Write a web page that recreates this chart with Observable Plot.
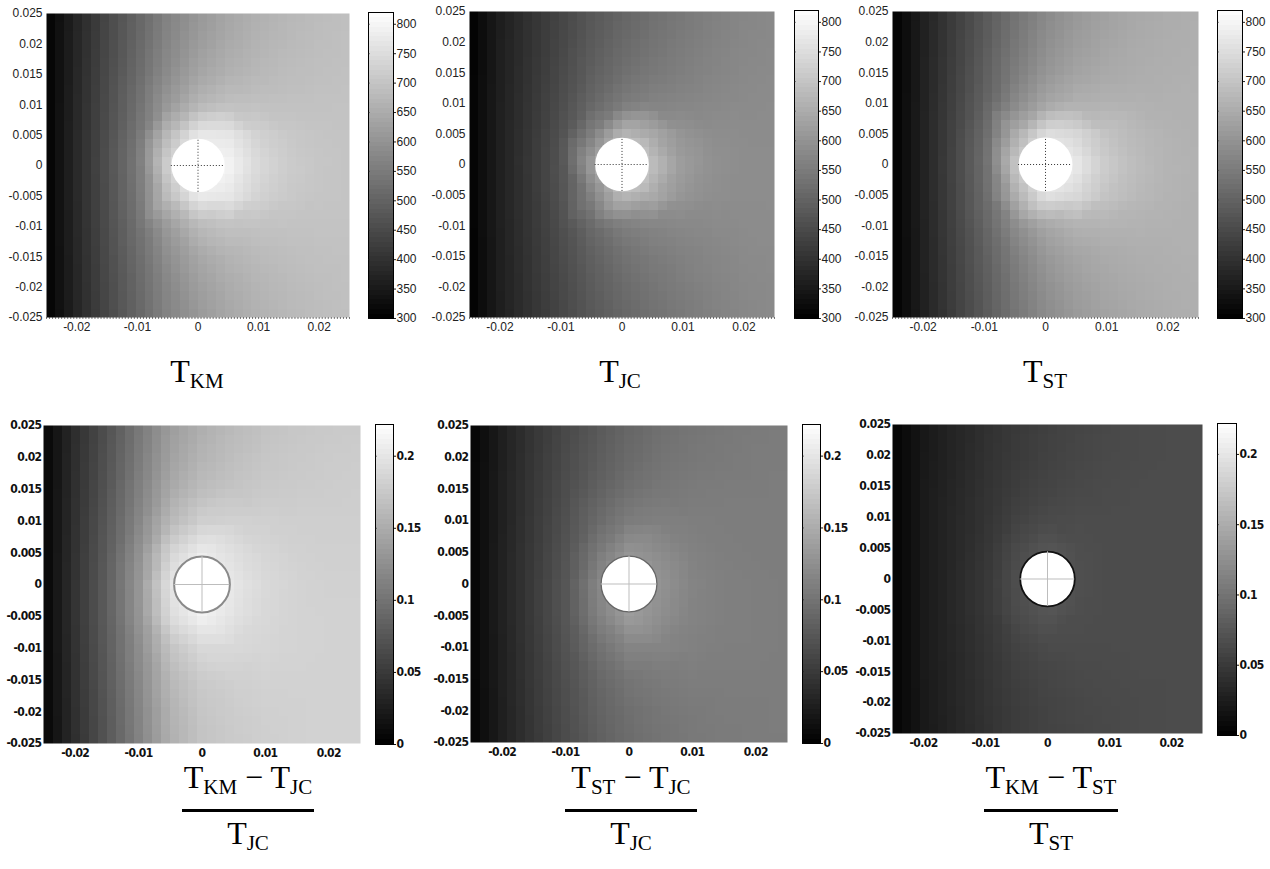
<!DOCTYPE html>
<html>
<head>
<meta charset="utf-8">
<script src="https://cdn.jsdelivr.net/npm/d3@7"></script>
<script src="https://cdn.jsdelivr.net/npm/@observablehq/plot@0.6"></script>
<style>
  body { margin: 0; background: #fff; }
  #fig { position: relative; width: 1270px; height: 869px; overflow: hidden; background: #fff; }
  #fig > svg, #fig > figure { position: absolute; margin: 0; }
  .lab { position: absolute; transform: translateX(-50%); white-space: nowrap;
         font-family: "Liberation Serif", "DejaVu Serif", serif; font-size: 32px; color: #000; line-height: normal; }
  .lab sub { font-size: 21px; vertical-align: -6px; }
  .bar { position: absolute; height: 3px; background: #000; }
</style>
</head>
<body>
<div id="fig"></div>
<script>
// Sample grid: columns are x positions, rows are y positions (top row first)
const xs = [-0.025, -0.02, -0.015, -0.01, -0.005, 0, 0.005, 0.01, 0.015, 0.02, 0.025];
const ys = [0.025, 0.02, 0.015, 0.01, 0.005, 0, -0.005, -0.01, -0.015, -0.02, -0.025];

const xTicks = [-0.02, -0.01, 0, 0.01, 0.02];
const yTicks = [0.025, 0.02, 0.015, 0.01, 0.005, 0, -0.005, -0.01, -0.015, -0.02, -0.025];
const tempTicks = [300, 350, 400, 450, 500, 550, 600, 650, 700, 750, 800];
const fracTicks = [0, 0.05, 0.1, 0.15, 0.2];
const tempDomain = [300, 820];
const fracDomain = [0, 0.222];
const xDomain = [-0.025, 0.025];
const yDomain = [-0.025, 0.025];

// Hole (inclusion) at the origin
const holeCentre = [{x: 0, y: 0}];
const holeRadius = 0.0044;

// Temperature field, KM model (K)
const tKM = [
  [300, 375, 445, 505, 565, 608, 638, 660, 674, 684, 690],
  [300, 377, 448, 510, 572, 618, 647, 666, 678, 687, 692],
  [300, 379, 452, 518, 585, 636, 662, 676, 685, 691, 694],
  [300, 381, 456, 528, 610, 672, 692, 694, 695, 696, 697],
  [300, 383, 460, 540, 680, 775, 770, 728, 709, 701, 699],
  [300, 384, 462, 548, 725, 815, 798, 744, 717, 704, 700],
  [300, 383, 460, 542, 685, 780, 772, 730, 710, 702, 700],
  [300, 381, 457, 530, 615, 678, 695, 697, 698, 698, 698],
  [300, 379, 453, 520, 590, 640, 666, 680, 688, 693, 695],
  [300, 377, 449, 512, 575, 622, 650, 668, 680, 688, 693],
  [300, 375, 446, 507, 567, 610, 640, 662, 676, 685, 691]
];

// Temperature field, JC model (K)
const tJC = [
  [300, 360, 402, 440, 478, 506, 528, 546, 562, 574, 580],
  [300, 361, 404, 444, 484, 514, 535, 552, 566, 576, 581],
  [300, 362, 406, 449, 493, 526, 546, 560, 571, 579, 583],
  [300, 363, 409, 456, 510, 550, 566, 574, 579, 583, 585],
  [300, 364, 412, 465, 560, 670, 645, 602, 588, 586, 586],
  [300, 364, 414, 470, 620, 770, 690, 618, 595, 588, 587],
  [300, 364, 412, 466, 565, 675, 648, 604, 590, 587, 587],
  [300, 363, 410, 458, 515, 555, 570, 577, 582, 585, 586],
  [300, 362, 407, 451, 496, 530, 550, 563, 574, 581, 584],
  [300, 361, 405, 446, 487, 517, 538, 555, 568, 578, 582],
  [300, 360, 403, 442, 480, 508, 530, 548, 564, 575, 581]
];

// Temperature field, ST model (K)
const tST = [
  [300, 365, 425, 480, 535, 580, 610, 630, 644, 652, 656],
  [300, 366, 428, 485, 543, 590, 619, 637, 648, 654, 657],
  [300, 367, 431, 492, 555, 606, 633, 646, 653, 657, 659],
  [300, 368, 435, 502, 580, 638, 660, 664, 662, 661, 660],
  [300, 369, 439, 515, 650, 755, 740, 697, 676, 665, 661],
  [300, 370, 441, 522, 705, 805, 775, 714, 683, 668, 662],
  [300, 369, 439, 517, 655, 760, 742, 699, 677, 666, 661],
  [300, 368, 436, 505, 585, 640, 662, 666, 664, 662, 661],
  [300, 367, 432, 494, 558, 610, 636, 648, 655, 658, 660],
  [300, 366, 429, 487, 546, 594, 622, 639, 649, 655, 658],
  [300, 365, 426, 482, 538, 584, 613, 632, 645, 653, 657]
];

// Relative difference (T_KM - T_JC) / T_JC
const dKMJC = [
  [0.003, 0.040, 0.070, 0.104, 0.136, 0.152, 0.162, 0.169, 0.173, 0.175, 0.176],
  [0.003, 0.041, 0.072, 0.107, 0.140, 0.157, 0.166, 0.172, 0.175, 0.177, 0.178],
  [0.003, 0.042, 0.074, 0.111, 0.147, 0.164, 0.171, 0.175, 0.177, 0.178, 0.179],
  [0.003, 0.043, 0.077, 0.117, 0.160, 0.180, 0.182, 0.181, 0.180, 0.180, 0.180],
  [0.003, 0.044, 0.080, 0.126, 0.185, 0.205, 0.194, 0.186, 0.182, 0.181, 0.181],
  [0.003, 0.045, 0.082, 0.130, 0.198, 0.218, 0.200, 0.189, 0.184, 0.182, 0.182],
  [0.003, 0.045, 0.082, 0.129, 0.192, 0.210, 0.197, 0.188, 0.184, 0.183, 0.183],
  [0.003, 0.044, 0.080, 0.122, 0.170, 0.188, 0.188, 0.186, 0.184, 0.183, 0.183],
  [0.003, 0.043, 0.078, 0.118, 0.160, 0.176, 0.181, 0.183, 0.183, 0.183, 0.183],
  [0.003, 0.042, 0.076, 0.115, 0.155, 0.172, 0.178, 0.181, 0.182, 0.183, 0.183],
  [0.003, 0.041, 0.075, 0.113, 0.152, 0.170, 0.176, 0.180, 0.182, 0.183, 0.183]
];

// Relative difference (T_ST - T_JC) / T_JC
const dSTJC = [
  [0.003, 0.027, 0.047, 0.063, 0.077, 0.089, 0.097, 0.102, 0.105, 0.107, 0.108],
  [0.003, 0.027, 0.048, 0.065, 0.080, 0.092, 0.100, 0.104, 0.106, 0.108, 0.108],
  [0.003, 0.028, 0.049, 0.067, 0.084, 0.097, 0.104, 0.107, 0.108, 0.108, 0.109],
  [0.003, 0.028, 0.050, 0.070, 0.092, 0.108, 0.111, 0.110, 0.109, 0.109, 0.109],
  [0.003, 0.029, 0.051, 0.073, 0.105, 0.128, 0.121, 0.113, 0.110, 0.109, 0.109],
  [0.003, 0.029, 0.052, 0.075, 0.115, 0.142, 0.127, 0.115, 0.111, 0.110, 0.109],
  [0.003, 0.029, 0.052, 0.075, 0.112, 0.136, 0.124, 0.114, 0.111, 0.110, 0.109],
  [0.003, 0.028, 0.051, 0.072, 0.098, 0.115, 0.115, 0.112, 0.110, 0.110, 0.109],
  [0.003, 0.028, 0.050, 0.069, 0.089, 0.102, 0.107, 0.109, 0.109, 0.109, 0.109],
  [0.003, 0.027, 0.049, 0.067, 0.085, 0.097, 0.103, 0.106, 0.108, 0.108, 0.109],
  [0.003, 0.027, 0.048, 0.066, 0.082, 0.094, 0.101, 0.105, 0.107, 0.108, 0.108]
];

// Relative difference (T_KM - T_ST) / T_ST
const dKMST = [
  [0.002, 0.021, 0.032, 0.042, 0.050, 0.056, 0.060, 0.063, 0.065, 0.066, 0.066],
  [0.002, 0.021, 0.032, 0.043, 0.051, 0.057, 0.061, 0.064, 0.065, 0.066, 0.066],
  [0.002, 0.022, 0.033, 0.044, 0.053, 0.059, 0.063, 0.065, 0.066, 0.066, 0.066],
  [0.002, 0.022, 0.034, 0.045, 0.057, 0.064, 0.066, 0.066, 0.066, 0.066, 0.066],
  [0.002, 0.022, 0.034, 0.047, 0.064, 0.074, 0.068, 0.066, 0.066, 0.066, 0.066],
  [0.002, 0.022, 0.035, 0.048, 0.068, 0.078, 0.069, 0.066, 0.066, 0.066, 0.066],
  [0.002, 0.022, 0.035, 0.048, 0.066, 0.075, 0.068, 0.066, 0.066, 0.066, 0.066],
  [0.002, 0.022, 0.034, 0.046, 0.059, 0.066, 0.066, 0.066, 0.066, 0.066, 0.066],
  [0.002, 0.022, 0.033, 0.045, 0.055, 0.061, 0.064, 0.065, 0.066, 0.066, 0.066],
  [0.002, 0.021, 0.033, 0.044, 0.053, 0.059, 0.062, 0.064, 0.065, 0.066, 0.066],
  [0.002, 0.021, 0.032, 0.043, 0.052, 0.058, 0.061, 0.063, 0.065, 0.066, 0.066]
];

const fig = document.getElementById("fig");
const fmt = d => String(d);
const grey = d3.interpolateRgb("#000", "#fff");

const thinFont = {fontFamily: "'Liberation Sans', Arial, sans-serif", fontSize: "12px", color: "#222"};
const boldFont = {fontFamily: "'DejaVu Sans Condensed', 'DejaVu Sans', sans-serif", fontStretch: "condensed",
                  fontSize: "12px", fontWeight: "bold", letterSpacing: "-0.6px", color: "#111"};

function gridPoints(grid) {
  const pts = [];
  ys.forEach((y, i) => xs.forEach((x, j) => pts.push({x, y, v: grid[i][j]})));
  return pts;
}

// Panel layout: frame and colour-bar boxes as [left, top, right, bottom] in page pixels
const panels = [
  {grid: tKM,   frame: [46, 13, 349, 317],  bar: [368, 12, 393, 318],   domain: tempDomain, ticks: tempTicks, top: true},
  {grid: tJC,   frame: [469, 11, 774, 317], bar: [794, 10, 818, 318],   domain: tempDomain, ticks: tempTicks, top: true},
  {grid: tST,   frame: [892, 11, 1198, 317], bar: [1217, 10, 1242, 318], domain: tempDomain, ticks: tempTicks, top: true},
  {grid: dKMJC, frame: [43, 425, 360, 743], bar: [375, 424, 393, 744],  domain: fracDomain, ticks: fracTicks, ring: "#8a8a8a", ringWidth: 2},
  {grid: dSTJC, frame: [470, 425, 787, 742], bar: [802, 424, 820, 743], domain: fracDomain, ticks: fracTicks, ring: "#666", ringWidth: 1.3},
  {grid: dKMST, frame: [892, 424, 1202, 733], bar: [1217, 423, 1236, 735], domain: fracDomain, ticks: fracTicks, ring: "#111", ringWidth: 1.8}
];

function place(el, left, top) {
  el.style.left = left + "px";
  el.style.top = top + "px";
  fig.appendChild(el);
}

function heatmap(p) {
  const [l, t, r, b] = p.frame;
  const w = r - l, h = b - t;
  const M = {left: 50, right: 4, top: 8, bottom: 26};
  const rPx = holeRadius * w / (xDomain[1] - xDomain[0]);
  const cross = p.top
    ? {stroke: "#333", strokeWidth: 1, strokeDasharray: "1,2"}
    : {stroke: "#bdbdbd", strokeWidth: 1};
  const marks = [
    Plot.raster(gridPoints(p.grid), {x: "x", y: "y", fill: "v", interpolate: "barycentric",
                                      pixelSize: 9, imageRendering: "pixelated"}),
    Plot.dot(holeCentre, {x: "x", y: "y", r: rPx, fill: "white",
                          stroke: p.ring ?? "none", strokeWidth: p.ringWidth ?? 0}),
    Plot.ruleX(holeCentre, {x: "x", y1: d => d.y - holeRadius, y2: d => d.y + holeRadius, ...cross}),
    Plot.ruleY(holeCentre, {y: "y", x1: d => d.x - holeRadius, x2: d => d.x + holeRadius, ...cross}),
    Plot.axisY({ticks: yTicks, tickSize: 0, tickPadding: p.top ? 4 : 2, tickFormat: fmt, label: null}),
    Plot.axisX({ticks: xTicks, tickSize: 0, tickPadding: p.top ? 5 : 5, tickFormat: fmt, label: null})
  ];
  if (p.top) {
    marks.push(Plot.axisX({ticks: 100, tickSize: 2, tickFormat: () => "", label: null, strokeOpacity: 0.6}));
  }
  const svg = Plot.plot({
    width: w + M.left + M.right, height: h + M.top + M.bottom,
    marginLeft: M.left, marginRight: M.right, marginTop: M.top, marginBottom: M.bottom,
    x: {domain: xDomain}, y: {domain: yDomain},
    color: {type: "linear", domain: p.domain, interpolate: grey, clamp: true},
    style: {...(p.top ? thinFont : boldFont), background: "transparent", overflow: "visible"},
    marks
  });
  place(svg, l - M.left, t - M.top);
}

function colorbar(p) {
  const [l, t, r, b] = p.bar;
  const M = {left: 2, right: 32, top: 8, bottom: 8};
  const svg = Plot.plot({
    width: r - l + M.left + M.right, height: b - t + M.top + M.bottom,
    marginLeft: M.left, marginRight: M.right, marginTop: M.top, marginBottom: M.bottom,
    x: {domain: [0, 1], axis: null},
    y: {domain: p.domain},
    color: {type: "linear", domain: p.domain, interpolate: grey, clamp: true},
    style: {...(p.top ? thinFont : boldFont), background: "transparent", overflow: "visible"},
    marks: [
      Plot.raster({fill: (x, y) => y, x1: 0, x2: 1, y1: p.domain[0], y2: p.domain[1],
                   width: 1, height: 64, imageRendering: "pixelated"}),
      Plot.frame({stroke: "#000", strokeWidth: 1}),
      Plot.axisY({anchor: "right", ticks: p.ticks, tickSize: 2, tickPadding: 1, tickFormat: fmt, label: null}),
      Plot.axisY({anchor: "left", ticks: p.ticks, tickSize: -2, tickFormat: () => "", label: null, strokeOpacity: 0.5})
    ]
  });
  place(svg, l - M.left, t - M.top);
}

panels.forEach(p => { heatmap(p); colorbar(p); });

// Panel captions
const captions = [
  {html: "T<sub>KM</sub>", cx: 197, top: 353},
  {html: "T<sub>JC</sub>", cx: 620, top: 353},
  {html: "T<sub>ST</sub>", cx: 1045, top: 353}
];
captions.forEach(c => {
  const d = document.createElement("div");
  d.className = "lab";
  d.innerHTML = c.html;
  place(d, c.cx, c.top);
});

// Fraction captions for the relative-difference panels
const fractions = [
  {num: "T<sub>KM</sub> − T<sub>JC</sub>", den: "T<sub>JC</sub>", cx: 248, barW: 132},
  {num: "T<sub>ST</sub> − T<sub>JC</sub>", den: "T<sub>JC</sub>", cx: 631, barW: 132},
  {num: "T<sub>KM</sub> − T<sub>ST</sub>", den: "T<sub>ST</sub>", cx: 1051, barW: 134}
];
fractions.forEach(f => {
  const n = document.createElement("div");
  n.className = "lab";
  n.innerHTML = f.num;
  place(n, f.cx, 759);
  const bar = document.createElement("div");
  bar.className = "bar";
  bar.style.width = f.barW + "px";
  place(bar, f.cx - f.barW / 2, 809);
  const dn = document.createElement("div");
  dn.className = "lab";
  dn.innerHTML = f.den;
  place(dn, f.cx, 815);
});
</script>
</body>
</html>
